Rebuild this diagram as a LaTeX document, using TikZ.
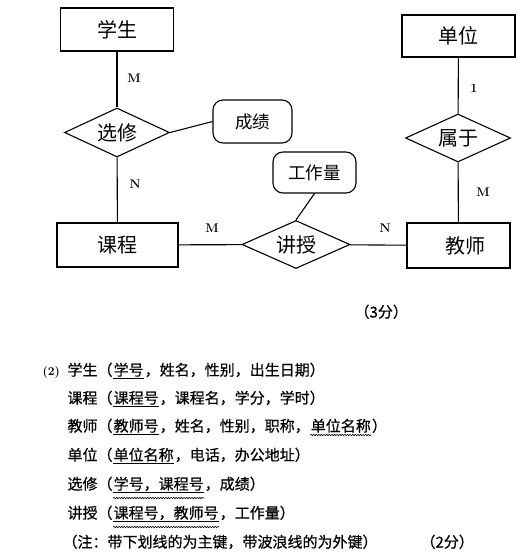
\documentclass[tikz,border=0pt]{standalone}
\usepackage{fontspec}
\newfontfamily\cjk{Noto Sans CJK SC}
\newfontfamily\cjkbody[FakeBold=0.6]{Noto Sans CJK SC}
\usetikzlibrary{shapes.geometric, decorations.pathmorphing}

\begin{document}
\begin{tikzpicture}[
        x=1pt, y=1pt,
        line width=1.1pt,
        entity/.style={rectangle, draw=black, inner sep=0pt, font=\cjk\fontsize{20}{22}\selectfont},
        relation/.style={diamond, draw=black, aspect=2.2, inner sep=0pt, font=\cjk\fontsize{20}{22}\selectfont},
        attr/.style={rectangle, draw=black, rounded corners=10pt, inner sep=0pt, font=\cjk\fontsize{17.5}{20}\selectfont},
        card/.style={inner sep=0pt, font=\fontsize{12.5}{14}\selectfont\bfseries},
        seg/.style={anchor=base west, inner sep=0pt, font=\cjkbody\fontsize{15}{18}\selectfont},
        keyline/.style={line width=0.8pt},
        fkline/.style={line width=0.6pt, decorate, decoration={snake, amplitude=0.7pt, segment length=2.6pt}}
    ]
    \useasboundingbox (0,0) rectangle (526,-554);

    % 实体
    \node[entity, minimum width=113pt, minimum height=43pt] (stu) at (117,-29.5) {学生};
    \node[entity, minimum width=113pt, minimum height=42pt] (unit) at (458.5,-36) {单位};
    \node[entity, minimum width=121pt, minimum height=44pt] (course) at (117.5,-245) {课程};
    \node[entity, minimum width=103pt, minimum height=45pt, text width=103pt, align=center] (teacher) at (458.5,-245.5) {\hspace*{14pt}教师};

    % 联系
    \node[relation, minimum width=105pt, minimum height=49pt] (sel) at (117,-132.5) {选修};
    \node[relation, minimum width=105pt, minimum height=48pt] (belong) at (458,-138) {属于};
    \node[relation, minimum width=108pt, minimum height=48pt] (teach) at (296,-244.5) {讲授};

    % 属性
    \node[attr, minimum width=79pt, minimum height=43pt] (score) at (252.5,-121.5) {成绩};
    \node[attr, minimum width=83pt, minimum height=41pt] (load) at (314.5,-172.5) {工作量};

    % 连线
    \draw (stu) -- (sel);
    \draw (sel) -- (course);
    \draw (sel.east) -- (score.west);
    \draw (course) -- (teach);
    \draw (teach) -- (teacher);
    \draw (load.south) -- (teach.north);
    \draw (unit) -- (belong);
    \draw (belong) -- (teacher);

    % 联系类型
    \node[card] (c1) at (134,-78) {M};
    \node[card] (c2) at (135,-184) {N};
    \node[card] (c3) at (212,-228) {M};
    \node[card] (c4) at (385,-228) {N};
    \node[card] (c5) at (474,-88) {1};
    \node[card] (c6) at (483,-192) {M};

    \node[seg] (p1) at (354,-317.5) {（3分）};

    % 关系模式
    \node[anchor=base west, inner sep=0pt, font=\fontsize{12}{14}\selectfont\bfseries] (no2) at (42,-375.5) {(2)};
    \node[seg] (s1a) at (67,-375.5) {学生（};
    \node[seg] (s1k) at (s1a.base east) {学号};
    \node[seg] (s1b) at (s1k.base east) {，姓名，性别，出生日期）};
    \draw[keyline] ([yshift=-3pt]s1k.base west) -- ([yshift=-3pt]s1k.base east);

    \node[seg] (s2a) at (67,-403.5) {课程（};
    \node[seg] (s2k) at (s2a.base east) {课程号};
    \node[seg] (s2b) at (s2k.base east) {，课程名，学分，学时）};
    \draw[keyline] ([yshift=-3pt]s2k.base west) -- ([yshift=-3pt]s2k.base east);

    \node[seg] (s3a) at (67,-431.5) {教师（};
    \node[seg] (s3k) at (s3a.base east) {教师号};
    \node[seg] (s3b) at (s3k.base east) {，姓名，性别，职称，};
    \node[seg] (s3f) at (s3b.base east) {单位名称};
    \node[seg] (s3c) at (s3f.base east) {）};
    \draw[keyline] ([yshift=-3pt]s3k.base west) -- ([yshift=-3pt]s3k.base east);
    \draw[fkline] ([yshift=-3.5pt]s3f.base west) -- ([yshift=-3.5pt]s3f.base east);

    \node[seg] (s4a) at (67,-460.5) {单位（};
    \node[seg] (s4k) at (s4a.base east) {单位名称};
    \node[seg] (s4b) at (s4k.base east) {，电话，办公地址）};
    \draw[keyline] ([yshift=-3pt]s4k.base west) -- ([yshift=-3pt]s4k.base east);

    \node[seg] (s5a) at (67,-489.5) {选修（};
    \node[seg] (s5k) at (s5a.base east) {学号，课程号};
    \node[seg] (s5b) at (s5k.base east) {，成绩）};
    \draw[keyline] ([yshift=-3pt]s5k.base west) -- ([yshift=-3pt]s5k.base east);
    \draw[fkline] ([yshift=-8.5pt]s5k.base west) -- ([yshift=-8.5pt]s5k.base east);

    \node[seg] (s6a) at (67,-518.5) {讲授（};
    \node[seg] (s6k) at (s6a.base east) {课程号，教师号};
    \node[seg] (s6b) at (s6k.base east) {，工作量）};
    \draw[keyline] ([yshift=-3pt]s6k.base west) -- ([yshift=-3pt]s6k.base east);
    \draw[fkline] ([yshift=-8.5pt]s6k.base west) -- ([yshift=-8.5pt]s6k.base east);

    \node[seg] (note) at (62,-547.5) {（注：带下划线的为主键，带波浪线的为外键）};
    \node[seg] (p2) at (420,-547.5) {（2分）};

\end{tikzpicture}
\end{document}
